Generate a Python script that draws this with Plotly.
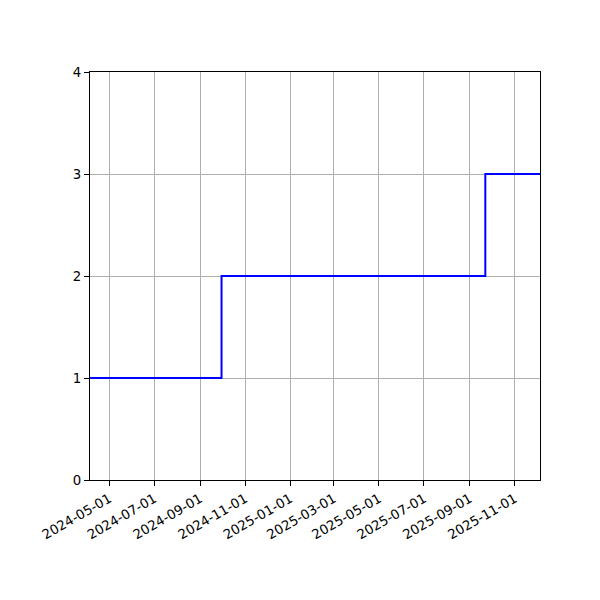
import plotly.graph_objects as go

# step data (value changes)
dates = ["2024-04-05", "2024-09-30", "2025-09-22", "2025-12-05"]
values = [1, 2, 3, 3]

tick_dates = ["2024-05-01", "2024-07-01", "2024-09-01", "2024-11-01", "2025-01-01",
              "2025-03-01", "2025-05-01", "2025-07-01", "2025-09-01", "2025-11-01"]
y_ticks = [0, 1, 2, 3, 4]

fig = go.Figure()

fig.add_trace(
    go.Scatter(
        x=dates,
        y=values,
        mode="lines",
        line=dict(color="blue", width=2, shape="hv"),
        showlegend=False,
    )
)

axis_style = dict(
    showline=True,
    linecolor="black",
    linewidth=1,
    mirror=True,
    ticks="outside",
    ticklen=5,
    tickcolor="black",
    showgrid=True,
    gridcolor="#b0b0b0",
    gridwidth=1,
    zeroline=False,
)

fig.update_xaxes(
    type="date",
    range=["2024-04-05", "2025-12-05"],
    tickvals=tick_dates,
    ticktext=tick_dates,
    tickangle=-30,
    **axis_style
)
fig.update_yaxes(
    range=[0, 4],
    tickvals=y_ticks,
    **axis_style
)

# page body adds an 8px offset, so margins are shifted to compensate
fig.update_layout(
    width=600,
    height=600,
    margin=dict(l=82, r=68, t=64, b=128),
    plot_bgcolor="white",
    paper_bgcolor="white",
    font=dict(family="DejaVu Sans", size=13.3, color="black"),
)

fig.write_html("out.html")
